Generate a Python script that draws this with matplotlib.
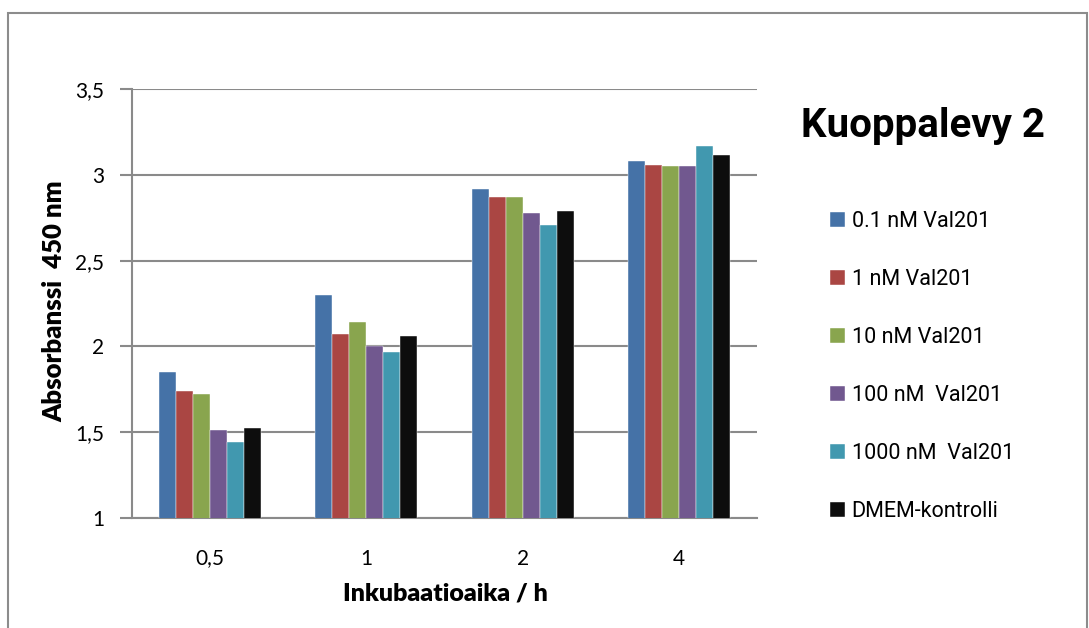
import matplotlib
matplotlib.use("Agg")
import matplotlib.pyplot as plt
import numpy as np
from matplotlib.patches import Rectangle

# Absorbance at 450 nm per incubation time, one list per treatment
times = ["0,5", "1", "2", "4"]
val_01nm = [1.85, 2.30, 2.915, 3.08]
val_1nm = [1.74, 2.07, 2.87, 3.06]
val_10nm = [1.725, 2.14, 2.87, 3.05]
val_100nm = [1.51, 2.00, 2.78, 3.05]
val_1000nm = [1.445, 1.97, 2.71, 3.17]
dmem_ctrl = [1.525, 2.06, 2.79, 3.115]

series_names = ["0.1 nM Val201", "1 nM Val201", "10 nM Val201",
                "100 nM  Val201", "1000 nM  Val201", "DMEM-kontrolli"]
series_values = [val_01nm, val_1nm, val_10nm, val_100nm, val_1000nm, dmem_ctrl]
colors = ["#4572A7", "#AA4643", "#89A54E", "#71588F", "#4198AF", "#0D0D0D"]

y_ticks = [1, 1.5, 2, 2.5, 3, 3.5]
y_tick_labels = ["1", "1,5", "2", "2,5", "3", "3,5"]

W, H = 1089, 628
body_font = ["Lato", "DejaVu Sans"]
narrow_font = ["Roboto", "Liberation Sans"]

fig = plt.figure(figsize=(W / 100, H / 100), dpi=100)

# outer chart border
fig.patches.append(Rectangle((8 / W, -0.02), 1079 / W, 1 - 13 / H + 0.02,
                             transform=fig.transFigure, fill=False,
                             edgecolor="#8c8c8c", linewidth=1.5))

ax = fig.add_axes([132 / W, 1 - 518 / H, 625 / W, 429 / H])

x = np.arange(len(times))
bw = 0.109
handles = []
for k, (name, vals, c) in enumerate(zip(series_names, series_values, colors)):
    b = ax.bar(x + (k - 2.5) * bw, vals, width=bw, color=c, label=name,
               edgecolor="white", linewidth=0.3, zorder=3)
    handles.append(b)

ax.set_xlim(-0.5, len(times) - 0.5)
ax.set_ylim(1, 3.5)
ax.set_yticks(y_ticks)
ax.set_yticklabels(y_tick_labels)
ax.set_xticks(x)
ax.set_xticklabels(times)

grid_c = "#8a8a8a"
ax.yaxis.grid(True, color=grid_c, linewidth=1.5, zorder=0)
ax.set_axisbelow(True)
for s in ["top", "right"]:
    ax.spines[s].set_visible(False)
for s in ["left", "bottom"]:
    ax.spines[s].set_color(grid_c)
    ax.spines[s].set_linewidth(1.5)

ax.tick_params(axis="y", length=9, width=1.5, color=grid_c, pad=11,
               labelsize=15)
ax.tick_params(axis="x", length=0, pad=22, labelsize=15)
for lab in ax.get_xticklabels() + ax.get_yticklabels():
    lab.set_family(body_font)

fig.text(54 / W, 1 - 301 / H, "Absorbanssi  450 nm", rotation=90,
         ha="center", va="center", fontsize=18.5, fontweight="heavy",
         family=body_font)
fig.text(445 / W, 1 - 594 / H, "Inkubaatioaika / h", ha="center",
         va="center", fontsize=18, fontweight="heavy", family=body_font)

fig.text(923 / W, 1 - 137 / H, "Kuoppalevy 2", ha="center", va="baseline",
         fontsize=29, fontweight="bold", family=narrow_font)

fig.legend(handles=handles, labels=series_names, loc="upper left",
           bbox_to_anchor=(830 / W, 1 - 211 / H), frameon=False,
           borderpad=0, borderaxespad=0, handlelength=0.7,
           handleheight=0.7, handletextpad=0.3, labelspacing=1.72,
           prop={"family": narrow_font, "size": 15.5})

fig.savefig("out.png", dpi=100)
